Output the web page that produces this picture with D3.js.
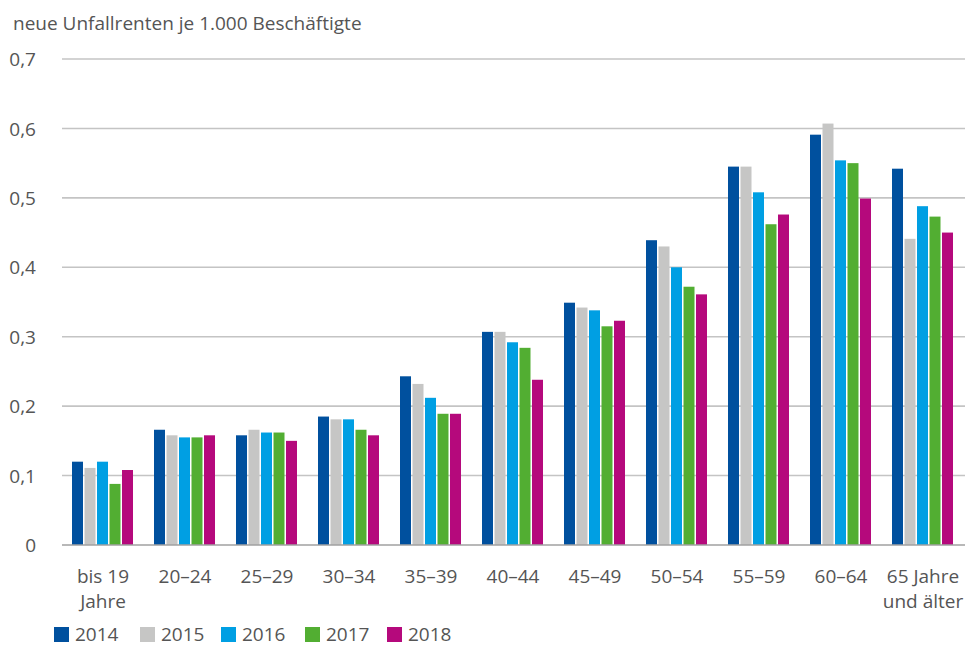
<!DOCTYPE html>
<html><head><meta charset="utf-8">
<script src="https://cdn.jsdelivr.net/npm/d3@7"></script>
<style>body{margin:0;background:#fff}svg{display:block}</style>
</head><body>
<script>
const categories = [["bis 19","Jahre"],["20–24"],["25–29"],["30–34"],["35–39"],["40–44"],["45–49"],["50–54"],["55–59"],["60–64"],["65 Jahre","und älter"]];
const years = ["2014","2015","2016","2017","2018"];
const v2014 = [0.120,0.166,0.158,0.185,0.243,0.307,0.349,0.439,0.545,0.591,0.542];
const v2015 = [0.111,0.158,0.166,0.181,0.232,0.307,0.342,0.430,0.545,0.607,0.441];
const v2016 = [0.120,0.155,0.162,0.181,0.212,0.292,0.338,0.400,0.508,0.554,0.488];
const v2017 = [0.088,0.155,0.162,0.166,0.189,0.284,0.315,0.372,0.462,0.550,0.473];
const v2018 = [0.108,0.158,0.150,0.158,0.189,0.238,0.323,0.361,0.476,0.499,0.450];
const seriesValues = [v2014,v2015,v2016,v2017,v2018];
const yTicks = [0,0.1,0.2,0.3,0.4,0.5,0.6,0.7];
const colors = ["#00509e","#c6c6c5","#009fe3","#52ae32","#b5097c"];
const yTitle = "neue Unfallrenten je 1.000 Beschäftigte";

const W=965,H=646;
const font = "'Open Sans', 'Noto Sans', sans-serif";
const fs = 19;
const svg = d3.select("body").append("svg").attr("width",W).attr("height",H);
const x0 = d3.scaleBand().domain(d3.range(categories.length)).range([62,964]).paddingInner(0).paddingOuter(0);
const x1 = d3.scaleBand().domain(years).range([10, x0.bandwidth()-11]).paddingInner(0.12);
const y = d3.scaleLinear().domain([0,0.7]).range([545,59]);

// gridlines
svg.append("g").selectAll("line").data(yTicks.filter(d=>d>0)).join("line")
  .attr("x1",62).attr("x2",W).attr("y1",d=>y(d)).attr("y2",d=>y(d))
  .attr("stroke","#c4c4c4").attr("stroke-width",1.6);

// y axis labels
const yAxis = d3.axisLeft(y).tickValues(yTicks).tickSize(0).tickPadding(0)
  .tickFormat(d=> d===0 ? "0" : d3.format(".1f")(d).replace(".",","));
const ga = svg.append("g").attr("transform","translate(36,0)").call(yAxis);
ga.select(".domain").remove();
ga.selectAll("text").attr("font-family",font).attr("font-size",fs).attr("fill","#555").attr("dy","0.35em");

// bars
const g = svg.append("g");
years.forEach((yr,si)=>{
  g.append("g").selectAll("rect").data(seriesValues[si]).join("rect")
   .attr("x",(d,i)=>x0(i)+x1(yr)).attr("width",x1.bandwidth())
   .attr("y",d=>y(d)).attr("height",d=>y(0)-y(d)).attr("fill",colors[si]);
});

// baseline
svg.append("line").attr("x1",62).attr("x2",W).attr("y1",y(0)).attr("y2",y(0))
  .attr("stroke","#a0a0a0").attr("stroke-width",1.6);

// x labels
const xl = svg.append("g");
categories.forEach((c,i)=>{
  const t = xl.append("text").attr("x",x0(i)+x0.bandwidth()/2).attr("y",583)
   .attr("text-anchor","middle").attr("font-family",font).attr("font-size",fs).attr("fill","#555");
  c.forEach((line,j)=>t.append("tspan").attr("x",x0(i)+x0.bandwidth()/2).attr("dy",j===0?0:25).text(line));
});

// title
svg.append("text").attr("x",13).attr("y",30).attr("font-family",font).attr("font-size",fs)
  .attr("fill","#555").text(yTitle);

// legend
const lg = svg.append("g");
const lx = [54,140,221,305,387];
years.forEach((yr,i)=>{
  lg.append("rect").attr("x",lx[i]).attr("y",627).attr("width",15).attr("height",15).attr("fill",colors[i]);
  lg.append("text").attr("x",lx[i]+21).attr("y",641).attr("font-family",font).attr("font-size",fs).attr("fill","#555").text(yr);
});
</script>
</body></html>
